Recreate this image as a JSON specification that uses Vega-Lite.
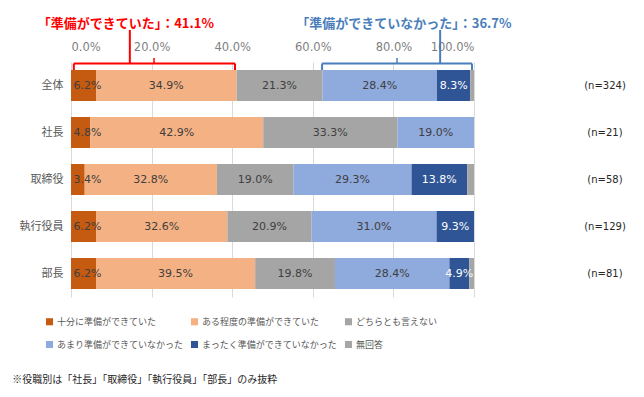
{
  "$schema": "https://vega.github.io/schema/vega-lite/v6.json",
  "width": 403,
  "height": 235,
  "autosize": {"type": "none"},
  "padding": {"left": 71, "top": 62, "right": 170, "bottom": 100},
  "background": "white",
  "config": {
    "view": {"stroke": null},
    "font": "Noto Sans CJK JP"
  },
  "layer": [
    {
      "data": {
        "values": [
          {"role": "全体", "cat": "十分に準備ができていた", "k": 1, "value": 6.2},
          {"role": "全体", "cat": "ある程度の準備ができていた", "k": 2, "value": 34.9},
          {"role": "全体", "cat": "どちらとも言えない", "k": 3, "value": 21.3},
          {"role": "全体", "cat": "あまり準備ができていなかった", "k": 4, "value": 28.4},
          {"role": "全体", "cat": "まったく準備ができていなかった", "k": 5, "value": 8.3},
          {"role": "全体", "cat": "無回答", "k": 6, "value": 0.9},
          {"role": "社長", "cat": "十分に準備ができていた", "k": 1, "value": 4.8},
          {"role": "社長", "cat": "ある程度の準備ができていた", "k": 2, "value": 42.9},
          {"role": "社長", "cat": "どちらとも言えない", "k": 3, "value": 33.3},
          {"role": "社長", "cat": "あまり準備ができていなかった", "k": 4, "value": 19.0},
          {"role": "社長", "cat": "まったく準備ができていなかった", "k": 5, "value": 0},
          {"role": "社長", "cat": "無回答", "k": 6, "value": 0},
          {"role": "取締役", "cat": "十分に準備ができていた", "k": 1, "value": 3.4},
          {"role": "取締役", "cat": "ある程度の準備ができていた", "k": 2, "value": 32.8},
          {"role": "取締役", "cat": "どちらとも言えない", "k": 3, "value": 19.0},
          {"role": "取締役", "cat": "あまり準備ができていなかった", "k": 4, "value": 29.3},
          {"role": "取締役", "cat": "まったく準備ができていなかった", "k": 5, "value": 13.8},
          {"role": "取締役", "cat": "無回答", "k": 6, "value": 1.7},
          {"role": "執行役員", "cat": "十分に準備ができていた", "k": 1, "value": 6.2},
          {"role": "執行役員", "cat": "ある程度の準備ができていた", "k": 2, "value": 32.6},
          {"role": "執行役員", "cat": "どちらとも言えない", "k": 3, "value": 20.9},
          {"role": "執行役員", "cat": "あまり準備ができていなかった", "k": 4, "value": 31.0},
          {"role": "執行役員", "cat": "まったく準備ができていなかった", "k": 5, "value": 9.3},
          {"role": "執行役員", "cat": "無回答", "k": 6, "value": 0},
          {"role": "部長", "cat": "十分に準備ができていた", "k": 1, "value": 6.2},
          {"role": "部長", "cat": "ある程度の準備ができていた", "k": 2, "value": 39.5},
          {"role": "部長", "cat": "どちらとも言えない", "k": 3, "value": 19.8},
          {"role": "部長", "cat": "あまり準備ができていなかった", "k": 4, "value": 28.4},
          {"role": "部長", "cat": "まったく準備ができていなかった", "k": 5, "value": 4.9},
          {"role": "部長", "cat": "無回答", "k": 6, "value": 1.2}
        ]
      },
      "transform": [
        {"stack": "value", "groupby": ["role"], "sort": [{"field": "k", "order": "ascending"}], "as": ["v0", "v1"]},
        {"calculate": "max((datum.v0 + datum.v1) / 2, 4.1)", "as": "mid"},
        {"calculate": "format(datum.value, '.1f') + '%'", "as": "lbl"}
      ],
      "layer": [
        {
          "mark": {"type": "bar"},
          "encoding": {
            "y": {
              "field": "role",
              "type": "nominal",
              "sort": ["全体", "社長", "取締役", "執行役員", "部長"],
              "scale": {"paddingInner": 0.34, "paddingOuter": 0.17},
              "axis": {
                "title": null,
                "domain": false,
                "ticks": false,
                "labelPadding": 8,
                "labelFontSize": 11,
                "labelColor": "#595959",
                "labelFont": "Noto Sans CJK JP"
              }
            },
            "x": {
              "field": "v0",
              "type": "quantitative",
              "scale": {"domain": [0, 100], "nice": false},
              "axis": {
                "orient": "top",
                "title": null,
                "values": [0, 20, 40, 60, 80, 100],
                "labelExpr": "format(datum.value, '.1f') + '%'",
                "domain": false,
                "ticks": false,
                "grid": true,
                "gridColor": "#D9D9D9",
                "labelPadding": 10,
                "labelFontSize": 11.5,
                "labelFont": "DejaVu Sans",
                "labelColor": "#7F7F7F"
              }
            },
            "x2": {"field": "v1"},
            "color": {
              "field": "cat",
              "type": "nominal",
              "scale": {
                "domain": ["十分に準備ができていた", "ある程度の準備ができていた", "どちらとも言えない", "あまり準備ができていなかった", "まったく準備ができていなかった", "無回答"],
                "range": ["#C55A11", "#F4B183", "#A5A5A5", "#8FAADC", "#2F5597", "#A6A6A6"]
              },
              "legend": {
                "title": null,
                "orient": "none",
                "legendX": -26,
                "legendY": 255,
                "direction": "horizontal",
                "columns": 3,
                "symbolType": "square",
                "symbolSize": 50,
                "symbolStrokeWidth": 0,
                "labelFontSize": 9,
                "labelFont": "Noto Sans CJK JP",
                "labelColor": "#595959",
                "labelOffset": 3,
                "columnPadding": 6,
                "rowPadding": 13
              }
            }
          }
        },
        {
          "transform": [{"filter": "datum.value > 0 && datum.cat !== '無回答'"}],
          "mark": {"type": "text", "font": "DejaVu Sans", "fontSize": 11, "baseline": "middle", "align": "center"},
          "encoding": {
            "y": {"field": "role", "type": "nominal", "sort": ["全体", "社長", "取締役", "執行役員", "部長"]},
            "x": {"field": "mid", "type": "quantitative"},
            "text": {"field": "lbl"},
            "color": {
              "condition": {"test": "datum.cat === 'まったく準備ができていなかった'", "value": "#FFFFFF"},
              "value": "#404040"
            }
          }
        }
      ]
    },
    {
      "data": {
        "values": [
          {"role": "全体", "n": "(n=324)"},
          {"role": "社長", "n": "(n=21)"},
          {"role": "取締役", "n": "(n=58)"},
          {"role": "執行役員", "n": "(n=129)"},
          {"role": "部長", "n": "(n=81)"}
        ]
      },
      "mark": {"type": "text", "font": "DejaVu Sans", "fontSize": 10, "color": "#262626", "align": "center", "baseline": "middle", "clip": false},
      "encoding": {
        "y": {"field": "role", "type": "nominal", "sort": ["全体", "社長", "取締役", "執行役員", "部長"]},
        "x": {"datum": 132.5, "type": "quantitative"},
        "text": {"field": "n"}
      }
    },
    {
      "data": {"values": [{"g": "red", "a": 0.7, "b": 40.7}, {"g": "blue", "a": 62.3, "b": 99.5}]},
      "mark": {"type": "rule", "strokeWidth": 2},
      "encoding": {
        "x": {"field": "a", "type": "quantitative"},
        "x2": {"field": "b"},
        "y": {"value": 1.5},
        "color": {"condition": {"test": "datum.g === 'red'", "value": "#FF0000"}, "value": "#4A7EBB"}
      }
    },
    {
      "data": {"values": [{"g": "red", "p": 0.7}, {"g": "red", "p": 40.7}, {"g": "blue", "p": 62.3}, {"g": "blue", "p": 99.5}]},
      "mark": {"type": "rule", "strokeWidth": 2},
      "encoding": {
        "x": {"field": "p", "type": "quantitative"},
        "y": {"value": 1.5},
        "y2": {"value": 8},
        "color": {"condition": {"test": "datum.g === 'red'", "value": "#FF0000"}, "value": "#4A7EBB"}
      }
    },
    {
      "data": {"values": [{"g": "red", "p": 20.6}, {"g": "blue", "p": 80.9}]},
      "mark": {"type": "rule", "strokeWidth": 1.5},
      "encoding": {
        "x": {"field": "p", "type": "quantitative"},
        "y": {"value": -4},
        "y2": {"value": 1.5},
        "color": {"condition": {"test": "datum.g === 'red'", "value": "#FF0000"}, "value": "#4A7EBB"}
      }
    },
    {
      "data": {"values": [{"g": "red", "p": 14.6}, {"g": "blue", "p": 91.6}]},
      "mark": {"type": "rule", "strokeWidth": 2},
      "encoding": {
        "x": {"field": "p", "type": "quantitative"},
        "y": {"value": -32},
        "y2": {"value": 1.5},
        "color": {"condition": {"test": "datum.g === 'red'", "value": "#FF0000"}, "value": "#4A7EBB"}
      }
    },
    {
      "data": {
        "values": [
          {"g": "red", "p": 13.6, "label": "「準備ができていた」：41.1%"},
          {"g": "blue", "p": 82.6, "label": "「準備ができていなかった」：36.7%"}
        ]
      },
      "mark": {"type": "text", "font": "Noto Sans CJK JP", "fontSize": 13, "fontWeight": "bold", "align": "center", "baseline": "middle", "clip": false},
      "encoding": {
        "x": {"field": "p", "type": "quantitative"},
        "y": {"value": -38},
        "text": {"field": "label"},
        "color": {"condition": {"test": "datum.g === 'red'", "value": "#FF0000"}, "value": "#4A7EBB"}
      }
    },
    {
      "data": {"values": [{"note": "※役職別は「社長」「取締役」「執行役員」「部長」のみ抜粋"}]},
      "mark": {"type": "text", "font": "Noto Sans CJK JP", "fontSize": 10, "color": "#262626", "align": "left", "baseline": "middle", "clip": false},
      "encoding": {
        "x": {"datum": -14.6, "type": "quantitative"},
        "y": {"value": 318},
        "text": {"field": "note"}
      }
    }
  ]
}
